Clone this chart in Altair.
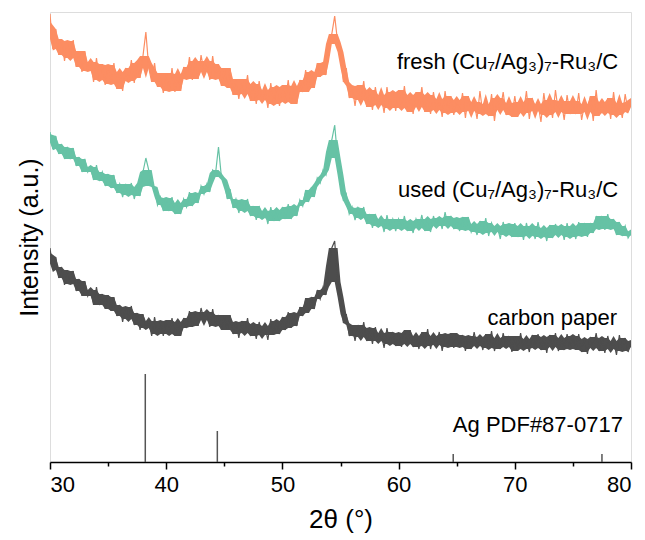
import altair as alt
import pandas as pd

X_START = 30.0
X_STEP = 0.25

fresh = [
    448,413,433,407,423,401,421,404,422,395,411,390,411,391,400,380,404,382,398,377,
    397,378,399,373,390,371,394,381,402,379,399,384,406,430,394,380,399,375,389,369,
    389,371,394,370,388,371,395,383,405,382,401,383,407,390,401,382,406,383,398,376,
    394,374,394,367,383,363,383,368,387,361,378,358,381,362,372,354,379,358,375,356,
    377,360,382,358,376,358,382,370,392,370,390,374,399,385,400,387,418,428,446,420,
    410,380,394,364,376,356,377,362,381,355,372,352,375,357,367,349,375,354,370,351,
    372,354,376,350,367,348,370,355,375,350,367,348,370,352,363,345,371,349,366,347,
    362,350,369,344,366,351,360,343,371,348,358,346,368,341,364,352,370,347,359,345,
    366,345,360,349,371,343,364,351,358,340,369,347,362,344,372,350,361,342,367,348,
    361,348,369,342,358,350,366,341,372,346,360,349,364,343,370,347,359,344,368,350,
    360,
]

used = [
    330,313,326,308,318,303,315,303,314,296,305,290,303,290,295,282,297,281,290,276,
    288,274,287,269,278,265,278,267,279,263,275,266,290,304,292,276,275,257,265,251,
    264,251,265,248,259,248,263,255,270,256,269,259,276,268,278,270,292,289,315,285,
    282,263,273,254,263,249,262,251,263,246,256,242,256,244,251,238,255,241,252,241,
    255,243,258,243,256,246,262,256,272,260,275,265,284,279,292,287,310,322,337,304,
    287,261,268,248,255,242,254,244,255,238,248,234,248,236,243,230,247,233,243,231,
    243,233,246,231,241,229,243,234,247,231,243,230,246,236,244,233,250,236,246,233,
    244,231,245,232,245,230,238,227,241,229,244,226,239,230,236,223,240,227,238,225,
    239,225,236,222,239,226,236,223,240,225,234,221,237,224,238,227,236,222,239,225,
    236,223,240,226,239,225,239,229,246,233,246,232,248,233,243,227,240,226,236,224,
    229,
]

carbon = [
    214,192,205,184,195,177,192,178,191,171,183,166,181,166,172,157,175,157,168,153,
    167,151,165,146,157,140,155,143,156,137,149,132,148,134,141,126,145,128,141,126,
    142,128,144,126,140,126,144,134,151,135,150,136,154,142,150,135,153,136,147,132,
    147,132,147,128,140,124,141,129,144,126,138,123,140,127,136,122,143,127,141,128,
    145,132,150,134,149,136,155,146,164,149,165,153,172,163,175,167,196,214,221,180,
    165,139,148,126,137,121,137,125,140,121,134,118,135,121,129,114,134,118,130,116,
    129,115,132,118,132,115,126,113,130,116,133,113,126,117,130,111,128,115,129,114,
    129,115,127,111,126,113,130,116,125,112,128,114,131,111,124,113,129,115,126,110,
    126,111,129,113,123,110,127,114,128,112,125,109,127,115,129,111,124,112,128,113,
    126,112,128,110,123,108,125,114,129,111,124,109,126,113,121,107,127,111,124,110,
    120,
]

series_names = ["carbon paper", "used", "fresh"]
series_colors = ["#4d4d4d", "#66c2a5", "#fc8d62"]

ref_pos = [38.2, 44.4, 64.7, 77.5]
ref_height = [88, 31, 8, 8]

label_text = ["fresh (Cu₇/Ag₃)₇-Ru₃/C", "used (Cu₇/Ag₃)₇-Ru₃/C", "carbon paper", "Ag PDF#87-0717"]
label_x = [78.9, 78.9, 78.8, 79.3]
label_y = [400, 272, 144, 37]

frames = []
for name, vals in zip(series_names, [carbon, used, fresh]):
    s = pd.Series(vals, dtype=float)
    roll = s.rolling(5, center=True, min_periods=1)
    frames.append(pd.DataFrame({
        "series": name,
        "x": [X_START + X_STEP * i for i in range(len(vals))],
        "v": s,
        "lo": roll.quantile(0.25),
        "hi": roll.quantile(0.75),
        "order": range(len(vals)),
    }))
df = pd.concat(frames, ignore_index=True)

ref_df = pd.DataFrame({"x": ref_pos, "h": ref_height, "zero": [0] * len(ref_pos)})
lab_df = pd.DataFrame({"text": label_text, "x": label_x, "y": label_y})

FONT = "Liberation Sans"

xscale = alt.Scale(domain=[30, 80], nice=False, zero=False)
yscale = alt.Scale(domain=[0, 450], nice=False, zero=False)
cscale = alt.Scale(domain=series_names, range=series_colors)

xaxis = alt.Axis(
    title="2θ (°)",
    values=[30, 35, 40, 45, 50, 55, 60, 65, 70, 75, 80],
    labelExpr="datum.value % 10 === 0 ? datum.label : ''",
    tickSize={"condition": {"test": "datum.value % 10 === 0", "value": 7}, "value": 4},
    tickColor="black",
    tickWidth=1.5,
    domainColor="black",
    domainWidth=1.5,
    labelFont=FONT,
    labelFontSize=22,
    labelColor="black",
    labelPadding=5,
    titleFont=FONT,
    titleFontSize=26,
    titleFontWeight="normal",
    titleColor="black",
    titlePadding=11,
    grid=False,
)
yaxis = alt.Axis(
    title="Intensity (a.u.)",
    labels=False,
    ticks=False,
    domain=False,
    grid=False,
    titleFont=FONT,
    titleFontSize=25,
    titleFontWeight="normal",
    titleColor="black",
    titlePadding=8,
)

band = alt.Chart(df).mark_area(clip=True, opacity=1).encode(
    x=alt.X("x:Q", scale=xscale, axis=xaxis),
    y=alt.Y("lo:Q", scale=yscale, axis=yaxis, stack=None),
    y2="hi:Q",
    color=alt.Color("series:N", scale=cscale, legend=None),
    detail="series:N",
)

lines = alt.Chart(df).mark_line(strokeWidth=1.2, clip=True).encode(
    x=alt.X("x:Q", scale=xscale, axis=xaxis),
    y=alt.Y("v:Q", scale=yscale, axis=yaxis),
    color=alt.Color("series:N", scale=cscale, legend=None),
    detail="series:N",
    order="order:Q",
)

refs = alt.Chart(ref_df).mark_rule(color="#555555", strokeWidth=1.5).encode(
    x="x:Q",
    y="zero:Q",
    y2="h:Q",
)

labels = alt.Chart(lab_df).mark_text(
    align="right", baseline="middle", font=FONT, fontSize=22, color="black"
).encode(
    x="x:Q",
    y="y:Q",
    text="text:N",
)

chart = alt.layer(band, lines, refs, labels).properties(
    width=581,
    height=450,
    padding={"left": 50, "top": 12, "right": 14, "bottom": 78},
    autosize=alt.AutoSizeParams(type="none"),
).configure_view(
    stroke="black",
    strokeWidth=1.5,
).configure(background="white")

chart.save("out.html", embed_options={"renderer": "svg", "actions": False})
